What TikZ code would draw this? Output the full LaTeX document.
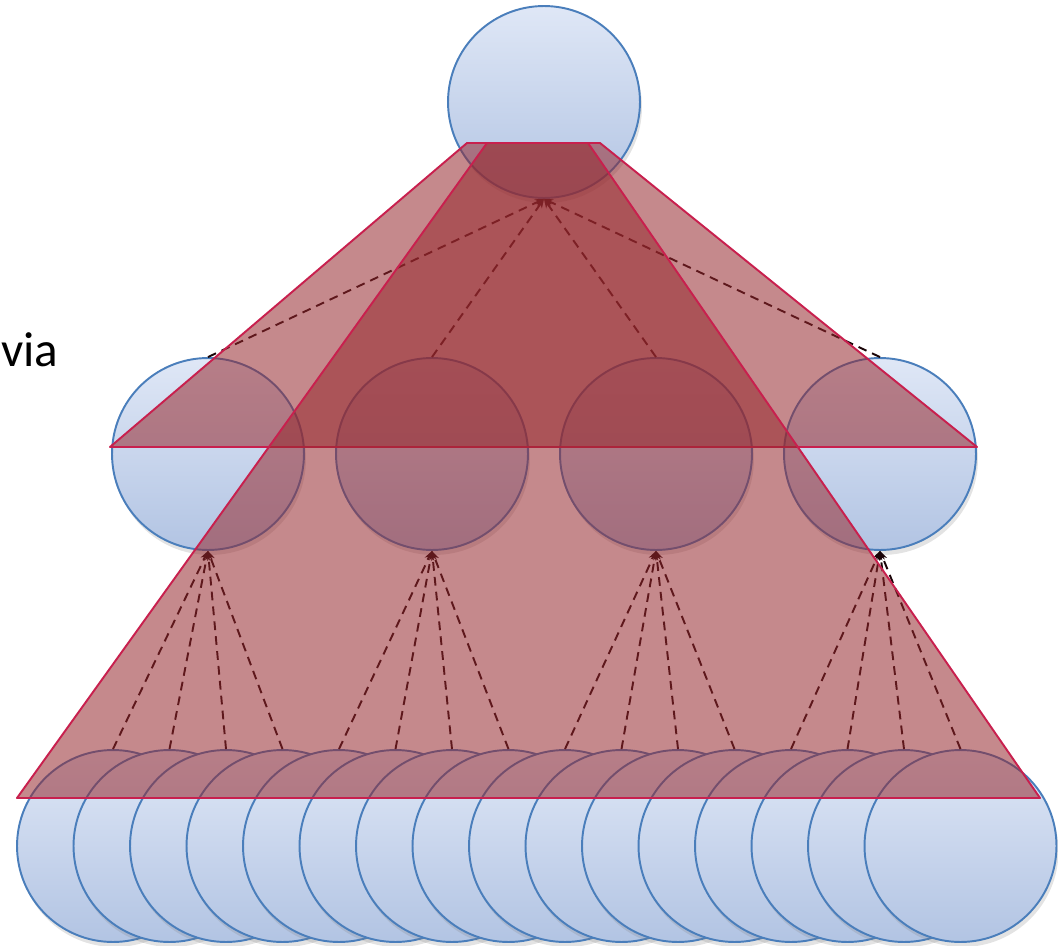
\documentclass[tikz,border=0pt]{standalone}
\usepackage{fontspec}
\setmainfont{Carlito}
\usetikzlibrary{arrows.meta,shadows}
\definecolor{nodeTop}{HTML}{DFE7F6}
\definecolor{nodeBottom}{HTML}{B2C4E3}
\definecolor{nodeEdge}{HTML}{4A7EBB}
\definecolor{poolEdge}{HTML}{C8204E}
\definecolor{poolFill}{HTML}{96282D}
\definecolor{linkColor}{HTML}{1A0508}
\tikzset{
  unit/.style={circle, draw=nodeEdge, line width=1.1pt, minimum size=3.84cm,
    inner sep=0pt, top color=nodeTop, bottom color=nodeBottom,
    drop shadow={opacity=0.22, shadow xshift=0.4mm, shadow yshift=-1mm}},
  link/.style={-{Stealth[length=1.8mm, width=1.5mm]}, line width=1.1pt,
    draw=linkColor, dash pattern=on 5pt off 3.5pt},
  pool/.style={draw=poolEdge, line width=1.1pt, fill=poolFill,
    fill opacity=0.55, line join=round}
}

\begin{document}
\begin{tikzpicture}[x=0.02cm, y=-0.02cm]
    \useasboundingbox (0,0) rectangle (1058,946);
    % text at the left edge
    \node[anchor=base west, inner sep=0pt, font=\fontsize{28}{33}\selectfont] (via) at (1,366) {via};
    % top unit
    \node[unit] (top) at (544,102) {};
    % middle layer
    \node[unit] (m1) at (208,454) {};
    \node[unit] (m2) at (432,454) {};
    \node[unit] (m3) at (656,454) {};
    \node[unit] (m4) at (880,454) {};
    % bottom layer
    \foreach \i in {1,...,16}
      \node[unit] (b\i) at ({113+56.5*(\i-1)},846) {};
    % connections
    \foreach \i in {1,...,4}
      \draw[link] (m\i.north) -- (top.south);
    \foreach \i in {1,...,16} {
      \pgfmathtruncatemacro{\p}{int((\i-1)/4)+1}
      \draw[link] (b\i.north) -- (m\p.south);
    }
    % pooling regions
    \draw[pool] (467,143) -- (600,143) -- (977,447) -- (110,447) -- cycle;
    \draw[pool] (487,143) -- (588,143) -- (1040,798) -- (17,798) -- cycle;
  \end{tikzpicture}
\end{document}
